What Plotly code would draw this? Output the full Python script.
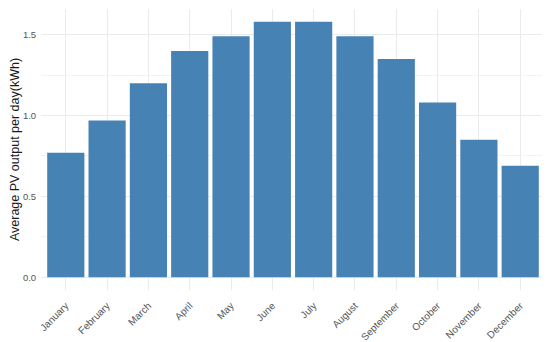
import plotly.graph_objects as go

months = ["January", "February", "March", "April", "May", "June", "July",
          "August", "September", "October", "November", "December"]
pv_output = [0.77, 0.97, 1.20, 1.40, 1.49, 1.58, 1.58, 1.49, 1.35, 1.08, 0.85, 0.69]
y_ticks = [0.0, 0.5, 1.0, 1.5]
y_tick_labels = ["0.0", "0.5", "1.0", "1.5"]

fig = go.Figure(go.Bar(x=months, y=pv_output, marker_color="#4682B4",
                       marker_line_width=0))

# page body has an 8px default margin; size the figure to fit the 550x342 window
fig.update_layout(
    width=542, height=334,
    margin=dict(l=33, r=5, t=1, b=52),
    plot_bgcolor="white", paper_bgcolor="white",
    bargap=0.1,
    font=dict(family="Liberation Sans, Arial, sans-serif", color="#4D4D4D"),
    showlegend=False,
)
fig.update_xaxes(
    range=[-0.6, 11.6], showgrid=True, gridcolor="#EBEBEB", gridwidth=1,
    tickangle=-45, tickfont=dict(size=10, color="#555555"),
    ticks="outside", ticklen=5, tickcolor="rgba(0,0,0,0)",
    showline=False, zeroline=False, automargin=False,
)
fig.update_yaxes(
    range=[-0.079, 1.659], tickvals=y_ticks, ticktext=y_tick_labels,
    showgrid=True, gridcolor="#EBEBEB", gridwidth=1,
    minor=dict(tickvals=[0.25, 0.75, 1.25], showgrid=True, gridcolor="#F3F3F3", gridwidth=0.6),
    tickfont=dict(size=9.5, color="#555555"), ticks="outside", ticklen=2, tickcolor="rgba(0,0,0,0)",
    zeroline=False, showline=False, automargin=False,
    title=dict(text="Average PV output per day(kWh)", font=dict(size=12.5, color="#1A1A1A"), standoff=3),
)

fig.write_html("out.html")
